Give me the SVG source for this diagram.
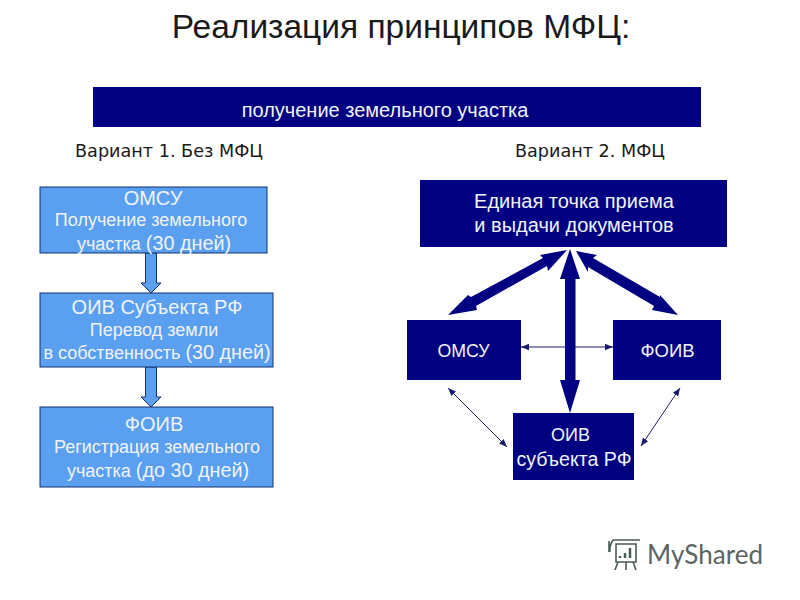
<svg xmlns="http://www.w3.org/2000/svg" width="800" height="600" viewBox="0 0 800 600">
<style>
text{font-family:"Liberation Sans",Arial,sans-serif;text-anchor:middle}
.d{fill:#000080}
.l{fill:#5a9ff0;stroke:#10306a;stroke-width:1}
.w{fill:#f0f3fa}
.k{fill:#1a1a1a}
.a{fill:#5a9ff0;stroke:#12356e;stroke-width:1}
.t{fill:#000080}
.n{stroke:#1c1c6e;stroke-width:1;fill:none;marker-start:url(#m);marker-end:url(#m)}
.b{font-size:18px}
.h{font-size:20px}
.c{font-size:19.800px}
.v{font-family:"DejaVu Sans",sans-serif;font-size:18px}
</style>
<defs>
<marker id="m" viewBox="0 0 8 8" refX="8" refY="4" markerWidth="8" markerHeight="8" orient="auto-start-reverse" markerUnits="userSpaceOnUse"><path d="M0 0.800L8 4L0 7.200z" fill="#1c1c6e"/></marker>
</defs>
<rect width="800" height="600" fill="#fff"/>
<text x="401" y="38" font-size="33.500" class="k">Реализация принципов МФЦ:</text>
<g id="banner"><rect x="93" y="87" width="608" height="40" class="d"/><text x="385" y="117" font-size="20" class="w">получение земельного участка</text></g>
<text x="169" y="157" class="k v" textLength="188" lengthAdjust="spacingAndGlyphs">Вариант 1. Без МФЦ</text>
<text x="590" y="157" class="k v" textLength="150" lengthAdjust="spacingAndGlyphs">Вариант 2. МФЦ</text>
<g id="connectors">
<path class="n" d="M521 347H613"/>
<path class="n" d="M448 388L507 447"/>
<path class="n" d="M680 388L641 446"/>
<path class="a" d="M145.500 253H156.500V283H161L151 293L141 283H145.500Z"/>
<path class="a" d="M145.500 367H156.500V397H161L151 407L141 397H145.500Z"/>
<path class="t" d="M570 249L580 279H575.500V380H580L570 413L560 380H565V279H560Z"/>
<path class="t" d="M567 250L548 271L547 266L476 306L477 310L448 315L468 295L471 297L543 258L540 255Z"/>
<path class="t" d="M576 251L597 255L593 258L660 297L660 295L678 315L652 310L654 306L588 267L588 272Z"/>
</g>
<g id="omsu-left"><rect x="40" y="187" width="227" height="66" class="l"/><text x="153" y="205" class="w h">ОМСУ</text><text x="151" y="226" class="w b">Получение земельного</text><text x="154" y="250" class="w b">участка <tspan class="c">(30 дней)</tspan></text></g>
<g id="oiv-left"><rect x="40" y="293" width="233" height="74" class="l"/><text x="157" y="314" class="w h">ОИВ Субъекта РФ</text><text x="154" y="336" class="w b">Перевод земли</text><text x="157" y="359" class="w b">в собственность <tspan class="c">(30 дней)</tspan></text></g>
<g id="foiv-left"><rect x="40" y="407" width="233" height="80" class="l"/><text x="154" y="431" class="w h">ФОИВ</text><text x="157" y="453" class="w b">Регистрация земельного</text><text x="158" y="477" class="w b">участка <tspan class="c">(до 30 дней)</tspan></text></g>
<g id="single"><rect x="420" y="180" width="307" height="67" class="d"/><text x="574" y="208" class="w h">Единая точка приема</text><text x="574" y="232" class="w h">и выдачи документов</text></g>
<g id="omsu-right"><rect x="407" y="320" width="114" height="60" class="d"/><text x="463.500" y="357" font-size="17.800" class="w">ОМСУ</text></g>
<g id="foiv-right"><rect x="613" y="320" width="108" height="60" class="d"/><text x="667.500" y="357" font-size="18.500" class="w">ФОИВ</text></g>
<g id="oiv-right"><rect x="513" y="413" width="121" height="67" class="d"/><text x="570.500" y="441" font-size="18" class="w">ОИВ</text><text x="574" y="466" font-size="19.600" class="w">субъекта РФ</text></g>
<g id="logo" fill="none" stroke="#4a5a58" stroke-width="1.600">
<path d="M613 540H640M613 540Q609 546 610 552M616 544H636V562H616ZM618 562L615 570M626 562V570M633 562L636 570M609 541V552"/>
<path d="M620 558V556M625 558V553M630 558V548" stroke-width="2.500"/>
<text x="647" y="564" font-size="26" style="text-anchor:start;font-family:Lato,sans-serif" fill="#5c6462" stroke="none" textLength="116">MyShared</text>
</g>
</svg>
